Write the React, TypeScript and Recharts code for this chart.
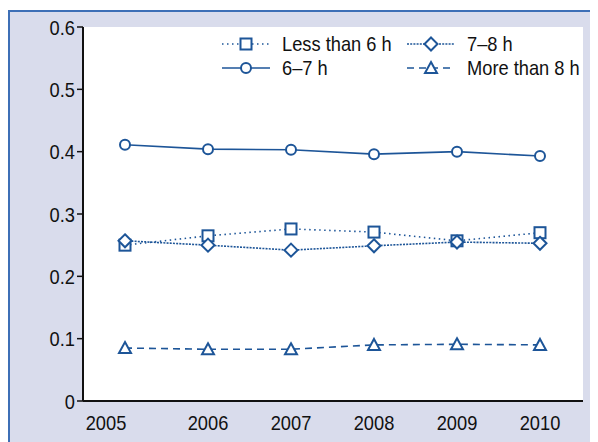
import { CartesianGrid, Line, LineChart, XAxis, YAxis } from "recharts";

const YEARS = ["2005", "2006", "2007", "2008", "2009", "2010"];
const LESS_THAN_6 = [0.25, 0.265, 0.276, 0.271, 0.257, 0.27];
const H6_7 = [0.411, 0.404, 0.403, 0.396, 0.4, 0.393];
const H7_8 = [0.257, 0.25, 0.242, 0.249, 0.255, 0.253];
const MORE_THAN_8 = [0.085, 0.083, 0.083, 0.09, 0.091, 0.09];
const Y_TICKS = [0, 0.1, 0.2, 0.3, 0.4, 0.5, 0.6];

const BLUE = "#1d5598";
const INK = "#111";
const FONT = "'Liberation Sans', Arial, sans-serif";
const NARROW = 0.87;

const data = YEARS.map((year, i) => ({
  year,
  less6: LESS_THAN_6[i],
  h67: H6_7[i],
  h78: H7_8[i],
  more8: MORE_THAN_8[i],
}));

type Shape = "square" | "circle" | "diamond" | "triangle";

function Marker({ cx, cy, shape }: { cx: number; cy: number; shape: Shape }) {
  const common = { fill: "#fff", stroke: BLUE, strokeWidth: 2 };
  if (shape === "circle") return <circle cx={cx} cy={cy} r={5} {...common} />;
  if (shape === "square") return <rect x={cx - 5.5} y={cy - 5.5} width={11} height={11} {...common} />;
  if (shape === "diamond")
    return <path d={`M${cx},${cy - 6.5}L${cx + 6.5},${cy}L${cx},${cy + 6.5}L${cx - 6.5},${cy}Z`} {...common} />;
  return <path d={`M${cx},${cy - 6}L${cx + 6},${cy + 5}L${cx - 6},${cy + 5}Z`} {...common} />;
}

const SERIES: { key: string; name: string; shape: Shape; dash?: string }[] = [
  { key: "less6", name: "Less than 6 h", shape: "square", dash: "1.5 3.5" },
  { key: "h78", name: "7–8 h", shape: "diamond", dash: "2 1.2" },
  { key: "h67", name: "6–7 h", shape: "circle" },
  { key: "more8", name: "More than 8 h", shape: "triangle", dash: "7 5" },
];

function LegendBox() {
  return (
    <div
      style={{
        position: "absolute",
        left: 212,
        top: 20,
        display: "grid",
        gridTemplateColumns: "185px 180px",
        fontFamily: FONT,
        fontSize: 21,
        lineHeight: "24px",
        color: INK,
      }}
    >
      {SERIES.map((s) => (
        <div key={s.key} style={{ display: "flex", alignItems: "center", whiteSpace: "nowrap" }}>
          <svg width={48} height={16} style={{ marginRight: 12, overflow: "visible" }}>
            <line x1={0} y1={8} x2={48} y2={8} stroke={BLUE} strokeWidth={1.6} strokeDasharray={s.dash} />
            <Marker cx={24} cy={8} shape={s.shape} />
          </svg>
          <span style={{ display: "inline-block", transform: `scaleX(${NARROW})`, transformOrigin: "left center" }}>
            {s.name}
          </span>
        </div>
      ))}
    </div>
  );
}

function YearTick({ x, y, payload, index }: any) {
  const shift = index === 0 ? -19 : 0;
  return (
    <text
      transform={`translate(${x + shift},${y}) scale(${NARROW},1)`}
      dy="0.71em"
      textAnchor="middle"
      fill={INK}
      fontFamily={FONT}
      fontSize={21}
    >
      {payload.value}
    </text>
  );
}

function ValueTick({ x, y, payload }: any) {
  return (
    <text
      transform={`translate(${x},${y}) scale(${NARROW},1)`}
      dy="0.36em"
      textAnchor="end"
      fill={INK}
      fontFamily={FONT}
      fontSize={21}
    >
      {payload.value}
    </text>
  );
}

export default function App() {
  return (
    <div
      style={{
        position: "relative",
        marginTop: 2,
        width: 588,
        height: 430,
        background: "#d9dcec",
        borderLeft: "2px solid #3d6fb6",
        borderTop: "2px solid #3d6fb6",
      }}
    >
      <LineChart width={588} height={430} data={data} margin={{ top: 15, right: 15, bottom: 0, left: 0 }}>
        <CartesianGrid horizontal={false} vertical={false} fill="#fff" />
        <XAxis
          dataKey="year"
          padding={{ left: 42, right: 43 }}
          tickLine={false}
          tickSize={0}
          tickMargin={14}
          height={41}
          axisLine={{ stroke: INK, strokeWidth: 2 }}
          tick={<YearTick />}
          interval={0}
        />
        <XAxis
          xAxisId="top"
          dataKey="year"
          orientation="top"
          height={0}
          tick={false}
          tickLine={false}
          axisLine={{ stroke: INK, strokeWidth: 2 }}
        />
        <YAxis
          domain={[0, 0.6]}
          ticks={Y_TICKS}
          width={73}
          tickSize={6}
          tickMargin={2}
          axisLine={{ stroke: INK, strokeWidth: 2 }}
          tickLine={{ stroke: INK, strokeWidth: 1.5 }}
          tick={<ValueTick />}
        />
        <YAxis
          yAxisId="right"
          orientation="right"
          width={0}
          tick={false}
          tickLine={false}
          axisLine={{ stroke: INK, strokeWidth: 2 }}
        />
        {SERIES.map((s) => (
          <Line
            key={s.key}
            dataKey={s.key}
            name={s.name}
            stroke={BLUE}
            strokeWidth={1.6}
            strokeDasharray={s.dash}
            isAnimationActive={false}
            dot={(p: any) => <Marker key={`${s.key}-${p.index}`} cx={p.cx} cy={p.cy} shape={s.shape} />}
            activeDot={false}
          />
        ))}
      </LineChart>
      <LegendBox />
    </div>
  );
}
